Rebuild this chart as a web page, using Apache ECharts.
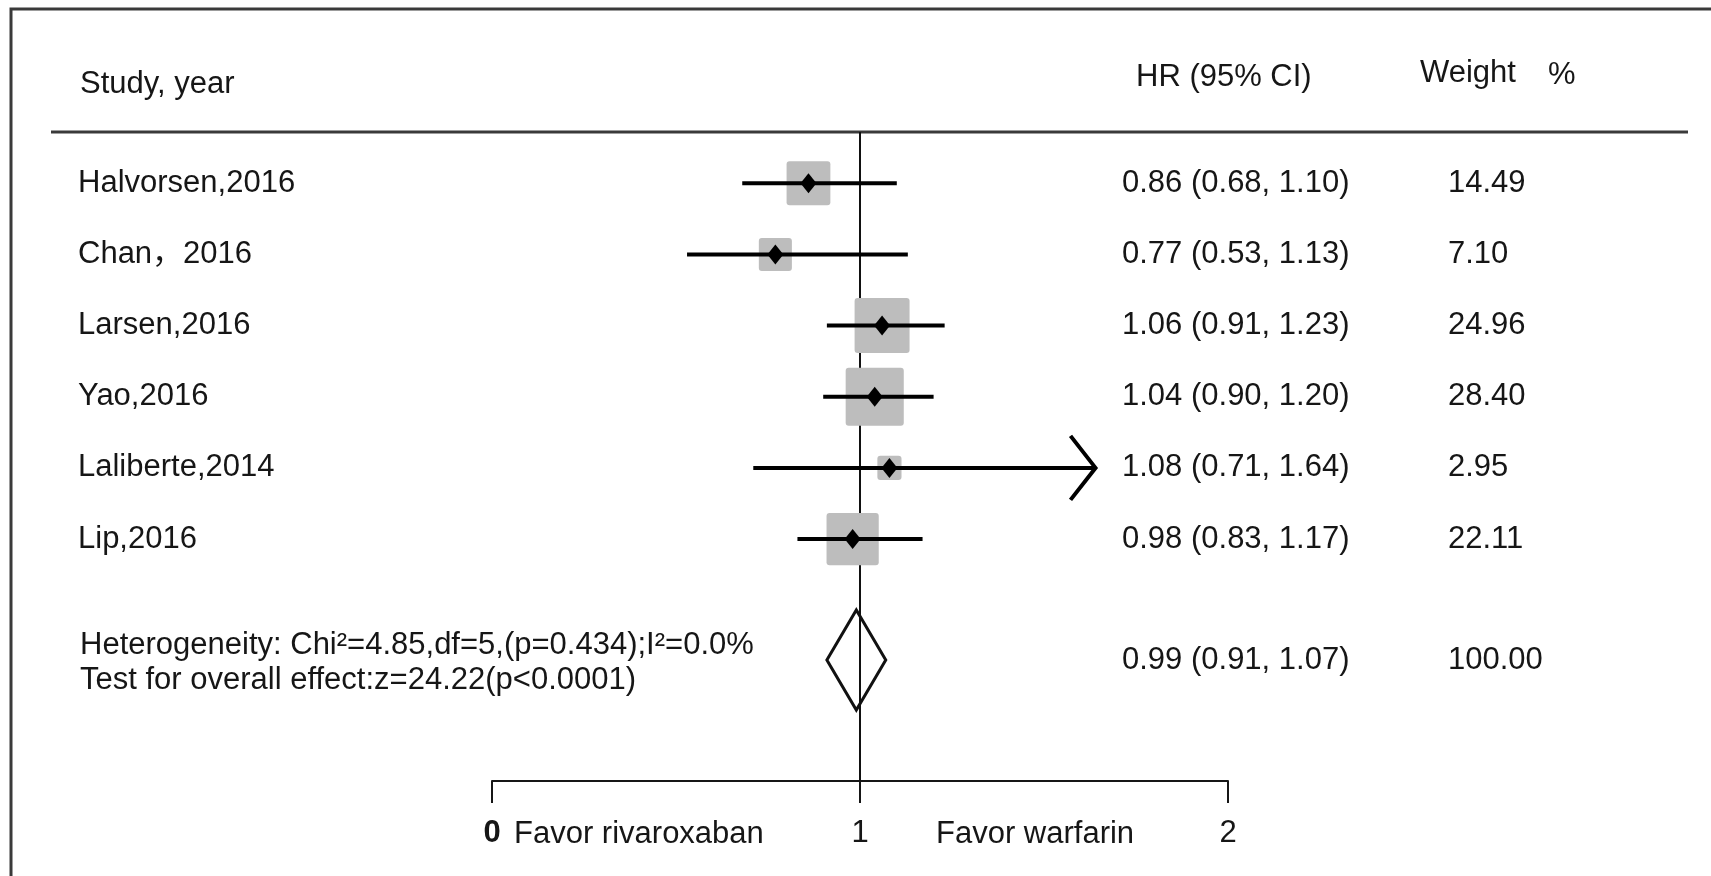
<!DOCTYPE html>
<html>
<head>
<meta charset="utf-8">
<title>Forest plot</title>
<script src="https://cdn.jsdelivr.net/npm/echarts@6.0.0/dist/echarts.min.js"></script>
<style>
  html, body { margin: 0; padding: 0; background: #fff; }
  #main { width: 1711px; height: 876px; }
</style>
</head>
<body>
<div id="main"></div>
<script>
// 各研究数据
var studies = ['Halvorsen,2016', 'Chan，2016', 'Larsen,2016', 'Yao,2016', 'Laliberte,2014', 'Lip,2016'];
var hr = [0.86, 0.77, 1.06, 1.04, 1.08, 0.98];
var ciLow = [0.68, 0.53, 0.91, 0.90, 0.71, 0.83];
var ciHigh = [1.10, 1.13, 1.23, 1.20, 1.64, 1.17];
var weights = [14.49, 7.10, 24.96, 28.40, 2.95, 22.11];
var arrowRight = [0, 0, 0, 0, 1, 0];   // 置信区间末端画箭头
// 合并结果
var pooledHr = 0.99;
var pooledCi = [0.91, 1.07];
var pooledWeight = 100.00;
var heterogeneity = [
  'Heterogeneity: Chi²=4.85,df=5,(p=0.434);I²=0.0%',
  'Test for overall effect:z=24.22(p<0.0001)'
];
var tickLabels = ['0', '1', '2'];
var favorLabels = ['Favor rivaroxaban', 'Favor warfarin'];

// 布局
var FONT = '"Liberation Sans", Arial, "Noto Sans CJK SC", sans-serif';
var FS = 31;
var TXT = '#161616';
var rowMin = -0.72, rowMax = 8.4;   // y轴范围 (行号)
var summaryRow = 6.7;
var colStudy = 78, colHr = 1122, colWeight = 1448, colNote = 80;

function fmtCi(h, l, u) {
  return h.toFixed(2) + ' (' + l.toFixed(2) + ', ' + u.toFixed(2) + ')';
}

var studyText = [], hrText = [], weightText = [], forestData = [];
for (let i = 0; i < studies.length; i++) {
  studyText.push({ name: studies[i], value: [colStudy, i] });
  hrText.push({ name: fmtCi(hr[i], ciLow[i], ciHigh[i]), value: [colHr, i] });
  weightText.push({ name: weights[i].toFixed(2), value: [colWeight, i] });
  forestData.push([ciLow[i], ciHigh[i], hr[i], weights[i], arrowRight[i], i]);
}
hrText.push({ name: fmtCi(pooledHr, pooledCi[0], pooledCi[1]), value: [colHr, summaryRow] });
weightText.push({ name: pooledWeight.toFixed(2), value: [colWeight, summaryRow] });
var noteText = [{ name: heterogeneity.join('\n'), value: [colNote, summaryRow] }];

function textSeries(data, offset) {
  return {
    type: 'scatter',
    xAxisIndex: 1,
    yAxisIndex: 1,
    symbolSize: 0.01,
    silent: true,
    itemStyle: { color: TXT, opacity: 1 },
    label: {
      show: true,
      position: 'right',
      distance: 0,
      offset: offset || [0, 0],
      formatter: function (p) { return p.name; },
      color: TXT,
      opacity: 1,
      fontSize: FS,
      fontFamily: FONT,
      lineHeight: 35
    },
    data: data
  };
}

var chart = echarts.init(document.getElementById('main'));

var option = {
  backgroundColor: '#fff',
  animation: false,
  grid: [
    { left: 492, width: 736, top: 132, height: 649 },
    { left: 0, width: 1711, top: 132, height: 649 }
  ],
  xAxis: [
    {
      type: 'value',
      gridIndex: 0,
      min: 0,
      max: 2,
      interval: 1,
      splitLine: { show: false },
      axisLine: { show: true, onZero: false, lineStyle: { color: TXT, width: 2 } },
      axisTick: { show: true, length: 22, lineStyle: { color: TXT, width: 2 } },
      axisLabel: {
        margin: 37,
        color: TXT,
        fontSize: FS,
        fontFamily: FONT,
        formatter: function (v) {
          var t = tickLabels[Math.round(v)];
          return v === 0 ? '{b|' + t + '}' : t;
        },
        rich: {
          b: { fontWeight: 'bold', fontSize: FS, fontFamily: FONT, color: TXT }
        }
      }
    },
    { type: 'value', gridIndex: 1, min: 0, max: 1711, show: false }
  ],
  yAxis: [
    { type: 'value', gridIndex: 0, min: rowMin, max: rowMax, inverse: true, show: false },
    { type: 'value', gridIndex: 1, min: rowMin, max: rowMax, inverse: true, show: false }
  ],
  graphic: [
    // 外框 (上, 左)
    { type: 'polyline', shape: { points: [[11, 876], [11, 9], [1711, 9]] }, style: { stroke: '#3a3a3a', lineWidth: 3, fill: 'none' } },
    // 表头分隔线
    { type: 'line', shape: { x1: 51, y1: 132, x2: 1688, y2: 132 }, style: { stroke: '#3a3a3a', lineWidth: 3 } },
    { type: 'text', x: 80, y: 84, style: { text: 'Study, year', fill: TXT, font: FS + 'px ' + FONT, verticalAlign: 'middle' } },
    { type: 'text', x: 1136, y: 77, style: { text: 'HR (95% CI)', fill: TXT, font: FS + 'px ' + FONT, verticalAlign: 'middle' } },
    { type: 'text', x: 1420, y: 73, style: { text: 'Weight', fill: TXT, font: FS + 'px ' + FONT, verticalAlign: 'middle' } },
    { type: 'text', x: 1548, y: 75, style: { text: '%', fill: TXT, font: FS + 'px ' + FONT, verticalAlign: 'middle' } },
    { type: 'text', x: 514, y: 834, style: { text: favorLabels[0], fill: TXT, font: FS + 'px ' + FONT, verticalAlign: 'middle' } },
    { type: 'text', x: 936, y: 834, style: { text: favorLabels[1], fill: TXT, font: FS + 'px ' + FONT, verticalAlign: 'middle' } }
  ],
  series: [
    // 无效线 x=1
    {
      type: 'line',
      xAxisIndex: 0,
      yAxisIndex: 0,
      symbol: 'none',
      silent: true,
      z: 1,
      lineStyle: { color: '#111', width: 2 },
      data: [[1, rowMin], [1, rowMax]]
    },
    // 各研究: 方块 + 置信区间 + 点估计
    {
      type: 'custom',
      xAxisIndex: 0,
      yAxisIndex: 0,
      z: 2,
      silent: true,
      encode: { x: [0, 1, 2], y: 5 },
      renderItem: function (params, api) {
        var row = api.value(5);
        var c = api.coord([api.value(2), row]);
        var l = api.coord([api.value(0), row]);
        var h = api.coord([api.value(1), row]);
        var s = 8 + 9.4 * Math.sqrt(api.value(3));
        var children = [
          { type: 'rect', shape: { x: c[0] - s / 2, y: c[1] - s / 2, width: s, height: s, r: 3 }, style: { fill: '#bdbdbd' } },
          { type: 'line', shape: { x1: l[0], y1: c[1], x2: h[0], y2: c[1] }, style: { stroke: '#000', lineWidth: 4 } },
          { type: 'polygon', shape: { points: [[c[0], c[1] - 10], [c[0] + 8, c[1]], [c[0], c[1] + 10], [c[0] - 8, c[1]]] }, style: { fill: '#000' } }
        ];
        if (api.value(4)) {
          children.push({
            type: 'polyline',
            shape: { points: [[h[0] - 25, c[1] - 32], [h[0], c[1]], [h[0] - 25, c[1] + 32]] },
            style: { stroke: '#000', lineWidth: 4, fill: 'none' }
          });
        }
        return { type: 'group', children: children };
      },
      data: forestData
    },
    // 合并效应菱形
    {
      type: 'custom',
      xAxisIndex: 0,
      yAxisIndex: 0,
      z: 2,
      silent: true,
      encode: { x: [0, 1, 2], y: 3 },
      renderItem: function (params, api) {
        var row = api.value(3);
        var c = api.coord([api.value(0), row]);
        var l = api.coord([api.value(1), row]);
        var h = api.coord([api.value(2), row]);
        return {
          type: 'polygon',
          shape: { points: [[l[0], c[1]], [c[0], c[1] - 50], [h[0], c[1]], [c[0], c[1] + 50]] },
          style: { fill: 'none', stroke: '#111', lineWidth: 3 }
        };
      },
      data: [[pooledHr, pooledCi[0], pooledCi[1], summaryRow]]
    },
    textSeries(studyText),
    textSeries(hrText),
    textSeries(weightText),
    textSeries(noteText, [0, 3])
  ]
};

chart.setOption(option);
</script>
</body>
</html>
